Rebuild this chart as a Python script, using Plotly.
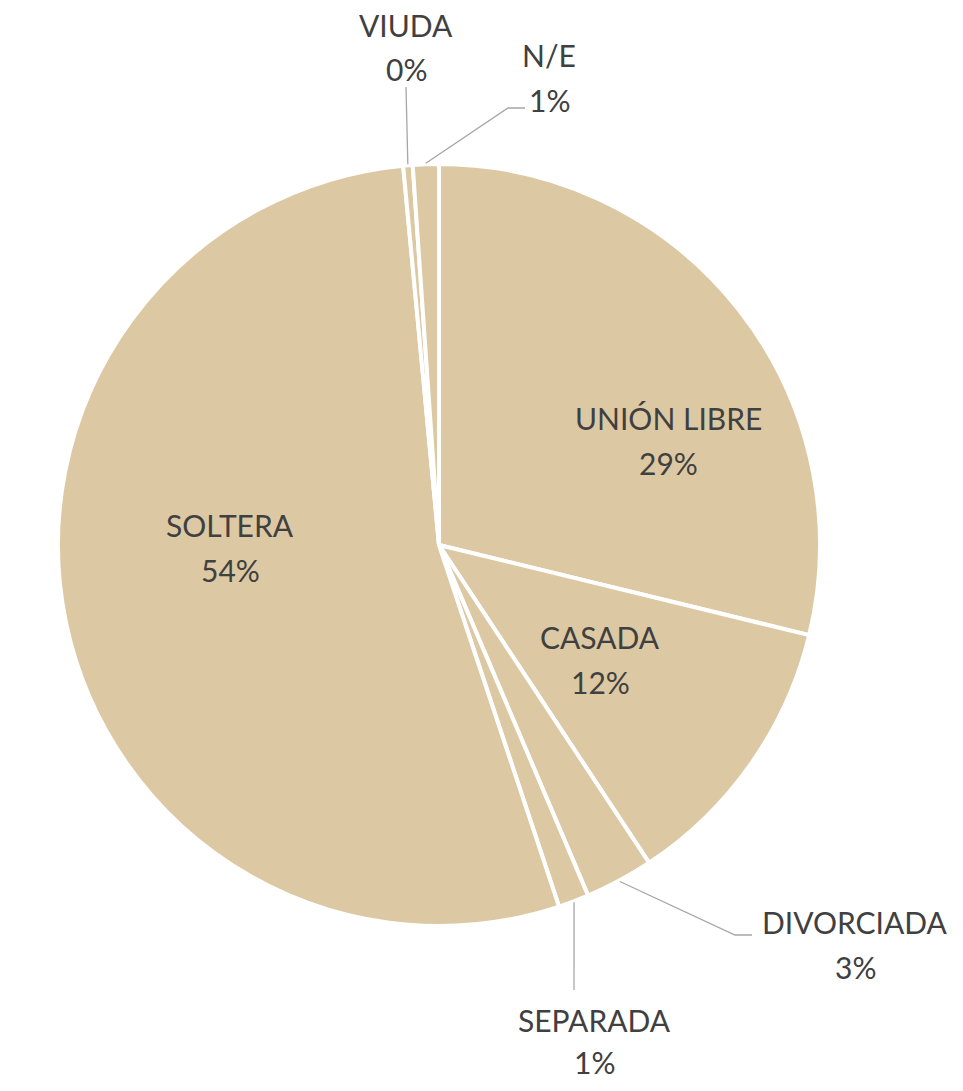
import math
import plotly.graph_objects as go

# Data
categories = ["UNIÓN LIBRE", "CASADA", "DIVORCIADA", "SEPARADA", "SOLTERA", "VIUDA", "N/E"]
values = [28.8, 11.9, 2.9, 1.3, 53.6, 0.4, 1.1]

W, H = 963, 1091          # browser window
OFF = 8                   # page body margin
FW, FH = W - 2 * OFF, H - 2 * OFF
CX, CY, R = 439, 545, 381

def px(x):
    return (x - OFF) / FW

def py(y):
    return 1 - (y - OFF) / FH

# label layout (pixel centers for name line and percent line)
label_pos = {
    "UNIÓN LIBRE": (668, 418, 463),
    "CASADA": (600, 637, 682),
    "DIVORCIADA": (855, 922, 967),
    "SEPARADA": (594, 1020, 1062),
    "SOLTERA": (230, 525, 570),
    "VIUDA": (406, 25, 69),
    "N/E": (549, 55, 100),
}
# leader line bends/ends (pixels) for outside labels
leader_path = {
    "VIUDA": [(406, 87)],
    "N/E": [(508, 108), (525, 108)],
    "DIVORCIADA": [(735, 935), (752, 935)],
    "SEPARADA": [(574, 990)],
}

TEXT = "#404040"
FONT = "Lato"
FS = 30

fig = go.Figure(go.Pie(
    labels=categories,
    values=values,
    sort=False,
    direction="clockwise",
    rotation=0,
    textinfo="none",
    hoverinfo="label+percent",
    marker=dict(colors=["#DCC9A3"] * len(values), line=dict(color="white", width=4)),
    domain=dict(x=[px(CX - R), px(CX + R)], y=[py(CY + R), py(CY - R)]),
    showlegend=False,
))

total = sum(values)
annotations = []
shapes = []
cum = 0.0
for name, v in zip(categories, values):
    pct = v / total
    mid = (cum + pct / 2) * 2 * math.pi
    cum += pct
    x0, y1, y2 = label_pos[name]
    annotations.append(dict(x=px(x0), y=py(y1), xref="paper", yref="paper", text=name,
                            showarrow=False, xanchor="center", yanchor="middle",
                            font=dict(family=FONT, size=FS, color=TEXT)))
    annotations.append(dict(x=px(x0), y=py(y2), xref="paper", yref="paper",
                            text=f"{round(pct * 100):d}%",
                            showarrow=False, xanchor="center", yanchor="middle",
                            font=dict(family=FONT, size=FS, color=TEXT)))
    if name in leader_path:
        sx = CX + (R + 1) * math.sin(mid)
        sy = CY - (R + 1) * math.cos(mid)
        pts = [(sx, sy)] + leader_path[name]
        path = "M " + " L ".join(f"{px(a):.5f},{py(b):.5f}" for a, b in pts)
        shapes.append(dict(type="path", path=path, xref="paper", yref="paper",
                           line=dict(color="#A6A6A6", width=1.3)))

fig.update_layout(
    width=FW, height=FH,
    margin=dict(l=0, r=0, t=0, b=0),
    paper_bgcolor="white",
    plot_bgcolor="white",
    annotations=annotations,
    shapes=shapes,
)

fig.write_html("out.html")
